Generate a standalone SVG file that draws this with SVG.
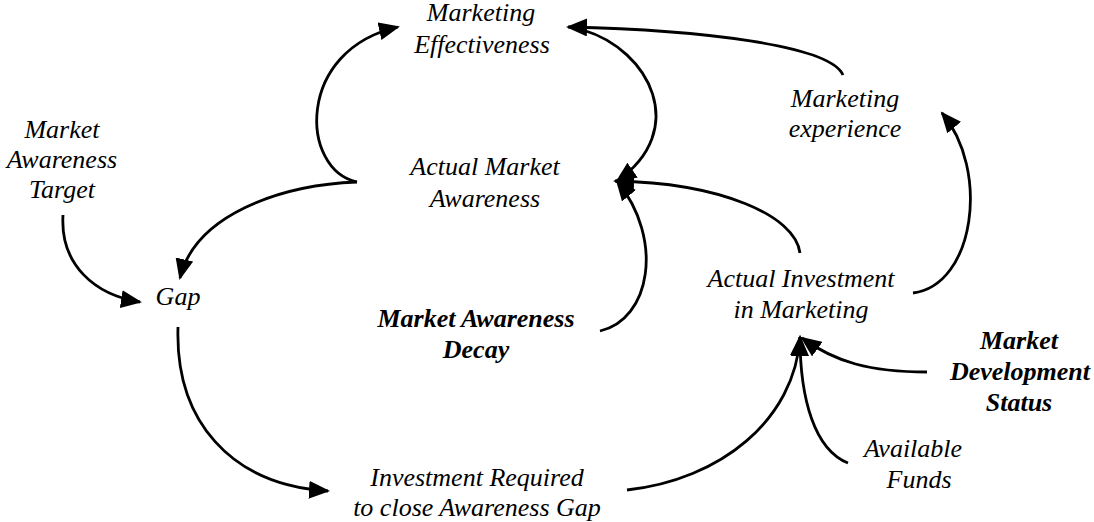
<svg xmlns="http://www.w3.org/2000/svg" width="1094" height="522" viewBox="0 0 1094 522">
<style>
.c{fill:none;stroke:#000;stroke-width:2.8}
</style>
<defs>
<marker id="ah" markerUnits="userSpaceOnUse" markerWidth="22" markerHeight="18" refX="19" refY="9" orient="auto">
<path d="M0,0 L21,9 L0,18 z" fill="#000"/>
</marker>
</defs>
<rect width="1094" height="522" fill="#fff"/>
<g id="connectors">
<path class="c" marker-end="url(#ah)" d="M357,182 C300,170 295,50 398,27"/>
<path class="c" marker-end="url(#ah)" d="M357,182 C280,185 195,215 180,278"/>
<path class="c" marker-end="url(#ah)" d="M63,215 C60,265 95,295 140,302"/>
<path class="c" marker-end="url(#ah)" d="M178,327 C175,420 230,485 328,491"/>
<path class="c" marker-end="url(#ah)" d="M627,490 C720,480 795,420 800,337"/>
<path class="c" marker-end="url(#ah)" d="M848,463 C815,450 800,400 800,337"/>
<path class="c" marker-end="url(#ah)" d="M927,372 C870,372 835,362 802,338"/>
<path class="c" marker-end="url(#ah)" d="M800,253 C795,215 720,183 615,181"/>
<path class="c" marker-end="url(#ah)" d="M600,331 C650,320 665,240 617,181"/>
<path class="c" marker-end="url(#ah)" d="M843,75 C830,45 700,30 568,27"/>
<path class="c" marker-end="url(#ah)" d="M583,30 C650,50 690,130 617,181"/>
<path class="c" marker-end="url(#ah)" d="M913,293 C975,285 990,170 942,113"/>
</g>
<g id="marketing-effectiveness"><text font-family="Liberation Serif" font-style="italic" font-size="26" text-anchor="middle" x="481" y="21">Marketing</text><text font-family="Liberation Serif" font-style="italic" font-size="26" text-anchor="middle" x="482" y="53">Effectiveness</text></g>
<g id="actual-market-awareness"><text font-family="Liberation Serif" font-style="italic" font-size="26" text-anchor="middle" x="485" y="175">Actual Market</text><text font-family="Liberation Serif" font-style="italic" font-size="26" text-anchor="middle" x="485" y="207">Awareness</text></g>
<g id="market-awareness-target"><text font-family="Liberation Serif" font-style="italic" font-size="26" text-anchor="middle" x="62" y="138">Market</text><text font-family="Liberation Serif" font-style="italic" font-size="26" text-anchor="middle" x="62" y="168">Awareness</text><text font-family="Liberation Serif" font-style="italic" font-size="26" text-anchor="middle" x="62" y="198">Target</text></g>
<g id="gap"><text font-family="Liberation Serif" font-style="italic" font-size="26" text-anchor="middle" x="178" y="305">Gap</text></g>
<g id="market-awareness-decay"><text font-family="Liberation Serif" font-style="italic" font-weight="bold" font-size="26" text-anchor="middle" x="476" y="327">Market Awareness</text><text font-family="Liberation Serif" font-style="italic" font-weight="bold" font-size="26" text-anchor="middle" x="476" y="358">Decay</text></g>
<g id="investment-required"><text font-family="Liberation Serif" font-style="italic" font-size="26" text-anchor="middle" x="477" y="486">Investment Required</text><text font-family="Liberation Serif" font-style="italic" font-size="26" text-anchor="middle" x="477" y="516">to close Awareness Gap</text></g>
<g id="actual-investment"><text font-family="Liberation Serif" font-style="italic" font-size="26" text-anchor="middle" x="801" y="287">Actual Investment</text><text font-family="Liberation Serif" font-style="italic" font-size="26" text-anchor="middle" x="801" y="318">in Marketing</text></g>
<g id="marketing-experience"><text font-family="Liberation Serif" font-style="italic" font-size="26" text-anchor="middle" x="845" y="107">Marketing</text><text font-family="Liberation Serif" font-style="italic" font-size="26" text-anchor="middle" x="845" y="137">experience</text></g>
<g id="market-development-status"><text font-family="Liberation Serif" font-style="italic" font-weight="bold" font-size="26" text-anchor="middle" x="1019" y="349">Market</text><text font-family="Liberation Serif" font-style="italic" font-weight="bold" font-size="26" text-anchor="middle" x="1020" y="380">Development</text><text font-family="Liberation Serif" font-style="italic" font-weight="bold" font-size="26" text-anchor="middle" x="1019" y="411">Status</text></g>
<g id="available-funds"><text font-family="Liberation Serif" font-style="italic" font-size="26" text-anchor="middle" x="913" y="457">Available</text><text font-family="Liberation Serif" font-style="italic" font-size="26" text-anchor="middle" x="919" y="488">Funds</text></g>
</svg>
